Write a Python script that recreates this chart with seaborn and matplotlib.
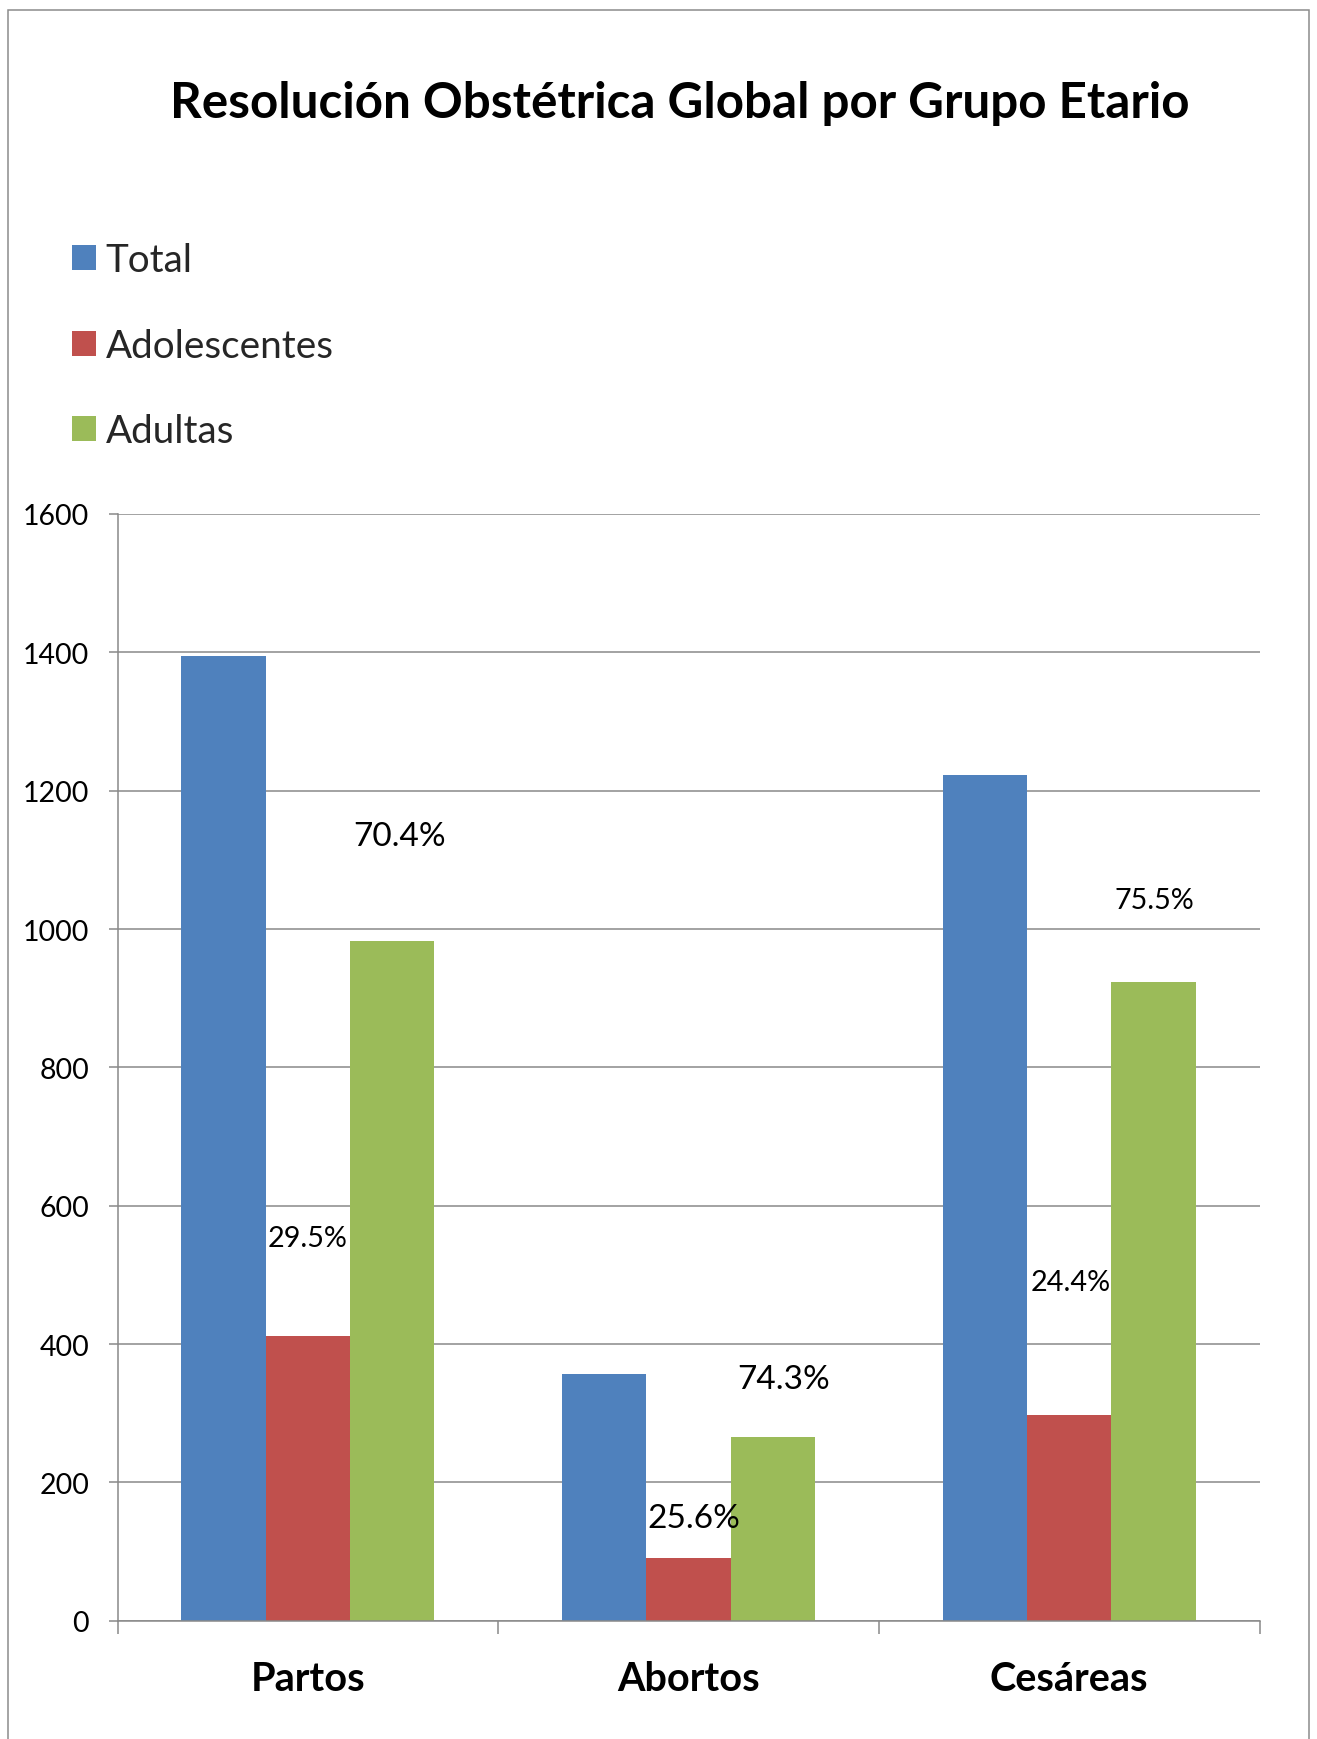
import matplotlib
matplotlib.use("Agg")
import matplotlib.pyplot as plt
from matplotlib.patches import Rectangle
import pandas as pd
import seaborn as sns

# Data
categories = ["Partos", "Abortos", "Cesáreas"]
series_names = ["Total", "Adolescentes", "Adultas"]
total = [1394, 357, 1222]
adolescentes = [411, 91, 298]
adultas = [982, 265, 923]
pct_adolescentes = ["29.5%", "25.6%", "24.4%"]
pct_adultas = ["70.4%", "74.3%", "75.5%"]
y_ticks = [0, 200, 400, 600, 800, 1000, 1200, 1400, 1600]

colors = ["#4F81BD", "#C0504D", "#9BBB59"]
grid_gray = "#898989"

df = pd.DataFrame({
    "categoria": categories * 3,
    "serie": [s for s in series_names for _ in categories],
    "valor": total + adolescentes + adultas,
})

sns.set_theme(style="white")
plt.rcParams["font.family"] = ["Lato", "DejaVu Sans"]

W, H = 1317, 1740
fig = plt.figure(figsize=(W / 100, H / 100), dpi=100)
ax = fig.add_axes([117.6 / W, 1 - 1621.7 / H, (1259.5 - 117.6) / W, (1621.7 - 515) / H])

sns.barplot(data=df, x="categoria", y="valor", hue="serie", order=categories,
            hue_order=series_names, palette=colors, width=0.665, gap=0,
            saturation=1, edgecolor="none", legend=False, ax=ax)

ax.set_xlim(-0.5, 2.5)
ax.set_ylim(0, 1600)
ax.set_yticks(y_ticks)
ax.set_yticklabels([str(v) for v in y_ticks], fontsize=20.5, color="black")
ax.yaxis.grid(True, color=grid_gray, linewidth=1.1)
ax.set_axisbelow(True)
ax.set_xlabel("")
ax.set_ylabel("")

# category labels between boundary ticks
ax.set_xticks([-0.5, 0.5, 1.5, 2.5])
ax.set_xticklabels([])
ax.set_xticks(range(len(categories)), minor=True)
ax.set_xticklabels(categories, minor=True, fontsize=28.5, fontweight="bold", color="black")
ax.tick_params(axis="x", which="major", direction="out", length=9.5, width=1.1,
               color=grid_gray, bottom=True)
ax.tick_params(axis="x", which="minor", length=0, pad=28.5)
ax.tick_params(axis="y", direction="out", length=6.5, width=1.1, color=grid_gray,
               left=True, pad=14)

for side in ["top", "right"]:
    ax.spines[side].set_visible(False)
for side in ["left", "bottom"]:
    ax.spines[side].set_color(grid_gray)
    ax.spines[side].set_linewidth(1.1)

# percentage labels above the adolescent and adult bars
label_lift_adol = [131, 44.5, 180]
label_lift_adult = [139, 71, 107.6]
label_dx_adol = [0.0, 0.015, 0.005]
label_dx_adult = [0.02, 0.028, 0.003]
size_adol = [20.7, 24, 20.7]
size_adult = [24, 24, 20.7]

adol_bars = ax.containers[1]
adult_bars = ax.containers[2]
for i, (b, v, t) in enumerate(zip(adol_bars, adolescentes, pct_adolescentes)):
    ax.text(b.get_x() + b.get_width() / 2 + label_dx_adol[i], v + label_lift_adol[i], t,
            ha="center", va="baseline", fontsize=size_adol[i], color="black")
for i, (b, v, t) in enumerate(zip(adult_bars, adultas, pct_adultas)):
    ax.text(b.get_x() + b.get_width() / 2 + label_dx_adult[i], v + label_lift_adult[i], t,
            ha="center", va="baseline", fontsize=size_adult[i], color="black")

# legend
handles = [Rectangle((0, 0), 1, 1, facecolor=c, edgecolor="none") for c in colors]
fig.legend(handles, series_names, loc="upper left", bbox_to_anchor=(72 / W, 1 - 243.5 / H),
           frameon=False, fontsize=27.8, handlelength=0.62, handleheight=0.62,
           handletextpad=0.25, labelspacing=1.28, borderpad=0, borderaxespad=0)

# title
fig.text(680 / W, 1 - 118.3 / H, "Resolución Obstétrica Global por Grupo Etario",
         ha="center", va="baseline", fontsize=35.6, fontweight="bold", color="black")

# chart frame
fig.add_artist(Rectangle((8 / W, -0.05), (1309 - 8) / W, 1.05 - 11 / H,
                         transform=fig.transFigure, fill=False,
                         edgecolor="#8c8c8c", linewidth=1.1))

fig.savefig("out.png", dpi=100, facecolor="white")
